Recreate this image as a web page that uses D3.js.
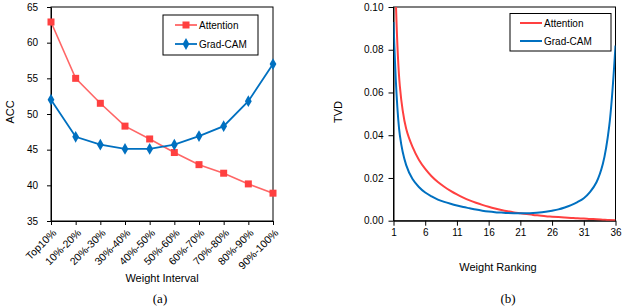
<!DOCTYPE html>
<html>
<head>
<meta charset="utf-8">
<script src="https://cdn.jsdelivr.net/npm/d3@7/dist/d3.min.js"></script>
<style>
  body { margin: 0; background: #fff; }
  svg { display: block; font-family: "Liberation Sans", Arial, sans-serif; }
  .axis path, .axis line { stroke: #000; }
  .axis text { fill: #000; font-size: 10px; }
</style>
</head>
<body>
<svg id="chart" width="623" height="307"></svg>
<script>
// (a) accuracy per weight interval
var intervals = ["Top10%", "10%-20%", "20%-30%", "30%-40%", "40%-50%", "50%-60%", "60%-70%", "70%-80%", "80%-90%", "90%-100%"];
var accAttention = [62.9, 55.0, 51.5, 48.3, 46.5, 44.6, 42.9, 41.7, 40.2, 38.9];
var accGradCam = [52.0, 46.8, 45.7, 45.1, 45.1, 45.7, 46.9, 48.3, 51.8, 57.0];
var accTicks = [35, 40, 45, 50, 55, 60, 65];

// (b) TVD per weight ranking 1..36
var ranks = d3.range(1, 37);
var tvdAttention = [0.150, 0.063, 0.043, 0.0345, 0.0285, 0.0242, 0.0208, 0.0181, 0.0159, 0.0140,
  0.0123, 0.0108, 0.0095, 0.0084, 0.0074, 0.0065, 0.0057, 0.0050, 0.0044, 0.0039,
  0.0035, 0.0031, 0.0027, 0.0024, 0.0021, 0.0019, 0.0017, 0.0015, 0.0013, 0.0011,
  0.0010, 0.0008, 0.0007, 0.0005, 0.0003, 0.0002];
var tvdGradCam = [0.093, 0.040, 0.026, 0.0195, 0.0158, 0.0132, 0.0114, 0.0099, 0.0088, 0.0079,
  0.0071, 0.0064, 0.0058, 0.0052, 0.0047, 0.0043, 0.0040, 0.0038, 0.0036, 0.0035,
  0.0035, 0.0035, 0.0036, 0.0038, 0.0042, 0.0047, 0.0053, 0.0062, 0.0073, 0.0087,
  0.0105, 0.0135, 0.0180, 0.0265, 0.0440, 0.082];
var rankTicks = [1, 6, 11, 16, 21, 26, 31, 36];
var tvdTicks = [0, 0.02, 0.04, 0.06, 0.08, 0.10];

var RED = "#ff4040", RED_LINE = "#ff6666", BLUE = "#0070c0";

var svg = d3.select("#chart");

// ---------- chart (a) ----------
var ga = svg.append("g");
var xa = d3.scalePoint().domain(intervals).range([51, 273]);
var ya = d3.scaleLinear().domain([35, 65]).range([221, 7]);

ga.append("rect").attr("x", 51).attr("y", 7).attr("width", 222).attr("height", 214)
  .attr("fill", "none").attr("stroke", "#000");

ga.append("g").attr("class", "axis").attr("transform", "translate(51,0)")
  .call(d3.axisLeft(ya).tickValues(accTicks).tickSize(4).tickPadding(9).tickSizeOuter(0));

var xAxisA = ga.append("g").attr("class", "axis").attr("transform", "translate(0,221)")
  .call(d3.axisBottom(xa).tickSize(4).tickSizeOuter(0));
xAxisA.selectAll("text")
  .attr("x", 0).attr("y", 0).attr("dy", "0.35em")
  .attr("text-anchor", "end").style("font-size", "10.5px")
  .attr("transform", "translate(3,10) rotate(-45)");

var lineA = d3.line().x(function (d, i) { return xa(intervals[i]); }).y(function (d) { return ya(d); });

ga.append("path").datum(accAttention).attr("d", lineA)
  .attr("fill", "none").attr("stroke", RED_LINE).attr("stroke-width", 1.6);
ga.append("path").datum(accGradCam).attr("d", lineA)
  .attr("fill", "none").attr("stroke", BLUE).attr("stroke-width", 1.8);

ga.selectAll(".sq").data(accAttention).enter().append("rect")
  .attr("x", function (d, i) { return xa(intervals[i]) - 3.5; })
  .attr("y", function (d) { return ya(d) - 3.5; })
  .attr("width", 7).attr("height", 7).attr("fill", RED);

var diamond = d3.symbol().type(d3.symbolDiamond).size(40);
ga.selectAll(".dm").data(accGradCam).enter().append("path")
  .attr("d", diamond)
  .attr("transform", function (d, i) { return "translate(" + xa(intervals[i]) + "," + ya(d) + ")"; })
  .attr("fill", BLUE);

ga.append("text").attr("transform", "translate(14,112) rotate(-90)")
  .attr("text-anchor", "middle").attr("font-size", 11).text("ACC");
ga.append("text").attr("x", 162).attr("y", 282)
  .attr("text-anchor", "middle").attr("font-size", 11).text("Weight Interval");
ga.append("text").attr("x", 160).attr("y", 303)
  .attr("text-anchor", "middle").attr("font-size", 13)
  .attr("font-family", "Liberation Serif, Times New Roman, serif").text("(a)");

// legend (a)
var la = ga.append("g");
la.append("rect").attr("x", 163).attr("y", 15).attr("width", 95).attr("height", 40)
  .attr("fill", "#fff").attr("stroke", "#000");
[["Attention", 25, RED_LINE], ["Grad-CAM", 44, BLUE]].forEach(function (e, k) {
  la.append("line").attr("x1", 175).attr("x2", 197).attr("y1", e[1]).attr("y2", e[1])
    .attr("stroke", e[2]).attr("stroke-width", 1.8);
  if (k === 0) {
    la.append("rect").attr("x", 182.5).attr("y", e[1] - 3.5).attr("width", 7).attr("height", 7).attr("fill", RED);
  } else {
    la.append("path").attr("d", diamond).attr("transform", "translate(186," + e[1] + ")").attr("fill", BLUE);
  }
  la.append("text").attr("x", 199).attr("y", e[1]).attr("dy", "0.35em")
    .attr("font-size", 10).text(e[0]);
});

// ---------- chart (b) ----------
var gb = svg.append("g");
var xb = d3.scaleLinear().domain([1, 36]).range([393.5, 615.5]);
var yb = d3.scaleLinear().domain([0, 0.1]).range([220.7, 7]);

gb.append("clipPath").attr("id", "clipb").append("rect")
  .attr("x", 393.5).attr("y", 7).attr("width", 222).attr("height", 213.7);

gb.append("rect").attr("x", 393.5).attr("y", 7).attr("width", 222).attr("height", 213.7)
  .attr("fill", "none").attr("stroke", "#000");

gb.append("g").attr("class", "axis").attr("transform", "translate(393.5,0)")
  .call(d3.axisLeft(yb).tickValues(tvdTicks).tickSize(5).tickPadding(5).tickSizeOuter(0)
    .tickFormat(d3.format(".2f")));

gb.append("g").attr("class", "axis").attr("transform", "translate(0,220.7)")
  .call(d3.axisBottom(xb).tickValues(rankTicks).tickSize(5).tickPadding(3).tickSizeOuter(0)
    .tickFormat(d3.format("d")));

var lineB = d3.line().curve(d3.curveCatmullRom)
  .x(function (d, i) { return xb(ranks[i]); }).y(function (d) { return yb(d); });

var plotB = gb.append("g").attr("clip-path", "url(#clipb)");
plotB.append("path").datum(tvdAttention).attr("d", lineB)
  .attr("fill", "none").attr("stroke", RED).attr("stroke-width", 2);
plotB.append("path").datum(tvdGradCam).attr("d", lineB)
  .attr("fill", "none").attr("stroke", BLUE).attr("stroke-width", 2);

gb.append("text").attr("transform", "translate(342,112) rotate(-90)")
  .attr("text-anchor", "middle").attr("font-size", 11).text("TVD");
gb.append("text").attr("x", 498).attr("y", 271)
  .attr("text-anchor", "middle").attr("font-size", 11).text("Weight Ranking");
gb.append("text").attr("x", 508).attr("y", 303)
  .attr("text-anchor", "middle").attr("font-size", 13)
  .attr("font-family", "Liberation Serif, Times New Roman, serif").text("(b)");

// legend (b)
var lb = gb.append("g");
lb.append("rect").attr("x", 510).attr("y", 13.5).attr("width", 101).attr("height", 37.5)
  .attr("fill", "#fff").attr("stroke", "#000");
[["Attention", 23, RED], ["Grad-CAM", 41, BLUE]].forEach(function (e) {
  lb.append("line").attr("x1", 520).attr("x2", 542).attr("y1", e[1]).attr("y2", e[1])
    .attr("stroke", e[2]).attr("stroke-width", 2);
  lb.append("text").attr("x", 544).attr("y", e[1]).attr("dy", "0.35em")
    .attr("font-size", 10).text(e[0]);
});
</script>
</body>
</html>
